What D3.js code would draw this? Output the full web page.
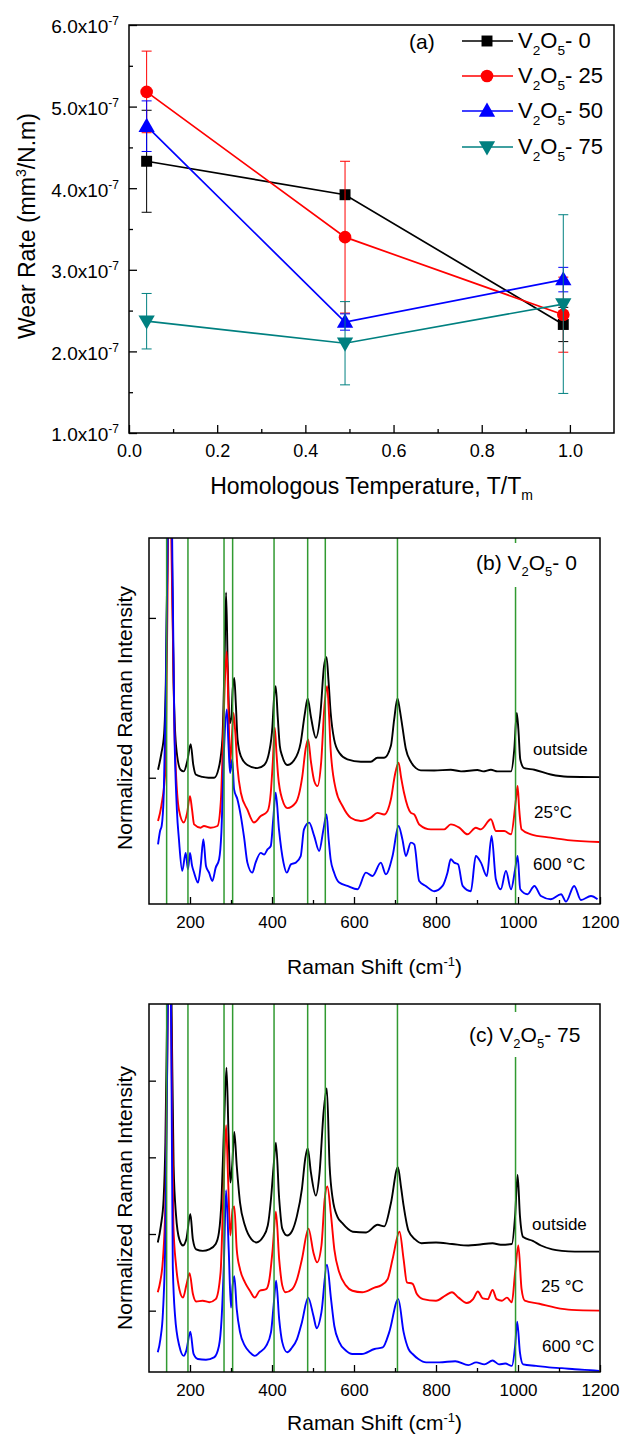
<!DOCTYPE html>
<html><head><meta charset="utf-8">
<script src="https://cdn.jsdelivr.net/npm/d3@7"></script>
<style>body{margin:0;background:#fff} text{font-family:"Liberation Sans",Arial,Helvetica,sans-serif}</style>
</head><body><svg id="chart" width="639" height="1436"></svg>
<script>
// ---------- Panel (a) data ----------
const tempX = [0.04, 0.49, 0.985];
const seriesNames = ["0", "25", "50", "75"];
const seriesColors = ["#000000", "#ff0000", "#0000ff", "#008080"];
const wear0 = [4.33e-7, 3.92e-7, 2.33e-7];
const wear25 = [5.18e-7, 3.40e-7, 2.45e-7];
const wear50 = [4.76e-7, 2.36e-7, 2.88e-7];
const wear75 = [2.37e-7, 2.10e-7, 2.58e-7];
const err0 = [0.625e-7, 0.03e-7, 0.21e-7];
const err25 = [0.50e-7, 0.93e-7, 0.46e-7];
const err50 = [0.31e-7, 0.10e-7, 0.15e-7];
const err75 = [0.34e-7, 0.51e-7, 1.095e-7];
const wearTicks = [1e-7, 2e-7, 3e-7, 4e-7, 5e-7, 6e-7];
const wearMinor = [1.5e-7, 2.5e-7, 3.5e-7, 4.5e-7, 5.5e-7];
const tempTicks = [0, 0.2, 0.4, 0.6, 0.8, 1.0];
const tempMinor = [0.1, 0.3, 0.5, 0.7, 0.9];

// ---------- Raman data ----------
const bands = [143, 195, 283, 304, 405, 487, 530, 706, 994];
const ramanTicks = [200, 400, 600, 800, 1000, 1200];
const ramanMinor = [300, 500, 700, 900, 1100];

const bOutside = [[122,1.05],[130,1.15],[137,1.28],[141,1.6],[146,2.6],[150,4.0],[155,2.6],[160,1.6],[166,1.2],[177,1.05],[185,1.04],[193,1.1],[201.7,1.21],[208,1.08],[214,1.02],[230,1.005],[245,1.0],[259,1.0],[270,1.06],[279,1.24],[284,1.7],[288,2.16],[292,1.7],[297,1.34],[301,1.38],[304,1.55],[308,1.625],[312,1.45],[316,1.24],[324,1.135],[340,1.08],[364,1.06],[381,1.08],[393,1.16],[401,1.32],[405,1.5],[409,1.573],[414,1.38],[419,1.2],[425,1.135],[437.6,1.08],[454,1.11],[470,1.22],[480,1.4],[487,1.496],[495,1.38],[507,1.25],[518,1.4],[527,1.7],[533,1.754],[538,1.6],[543,1.41],[551.5,1.24],[564,1.156],[584,1.115],[616.6,1.10],[641,1.10],[657,1.125],[673.6,1.125],[690,1.2],[698,1.365],[706,1.496],[712,1.42],[718,1.32],[726.5,1.18],[738.7,1.10],[751,1.06],[763,1.046],[795.6,1.045],[836,1.05],[861,1.04],[901,1.048],[915,1.04],[934,1.05],[950,1.04],[983,1.04],[991,1.18],[997,1.406],[1001,1.3],[1005.5,1.115],[1015,1.06],[1040,1.05],[1080,1.02],[1121,1.006],[1198,1.004]];
const b25 = [[122,0.729],[130,0.823],[140.7,1.073],[146,2.4],[150,3.8],[155,2.4],[162,1.3],[173,0.80],[185,0.72],[193,0.78],[200,0.885],[205,0.8],[210,0.708],[226,0.6875],[234,0.698],[250.5,0.6875],[267,0.698],[275,0.844],[281,1.28],[285,1.6],[289.6,1.79],[294,1.4],[298,1.09],[302,1.25],[306,1.406],[310,1.3],[315.6,1.07],[324,0.906],[340,0.80],[356,0.72],[372.6,0.76],[389,0.79],[397,0.906],[402,1.1],[406.7,1.3125],[411,1.15],[415,1.01],[425,0.865],[437.6,0.81],[458,0.844],[474,1.01],[482,1.18],[488,1.24],[495,1.1],[503,0.98],[511,0.948],[520,1.1],[528,1.45],[534.5,1.573],[539,1.4],[543,1.177],[555.6,0.927],[572,0.823],[592,0.75],[616.6,0.729],[641,0.75],[657,0.78],[673.6,0.77],[690,0.865],[700,1.02],[708.6,1.094],[715,1.0],[722,0.906],[738.7,0.78],[747,0.77],[759,0.708],[787.5,0.677],[820,0.677],[836,0.708],[856.7,0.6875],[877,0.646],[897,0.6875],[909.6,0.677],[934,0.74],[946,0.667],[966.5,0.667],[983,0.646],[995,0.865],[999,0.948],[1003,0.8],[1008.7,0.677],[1031.6,0.646],[1080,0.625],[1121,0.61],[1198,0.598]];
const b600 = [[122,0.583],[127,0.667],[131,0.7],[136,0.9],[141,1.5],[146,2.6],[150,4.0],[156,2.6],[162,1.3],[168,0.8],[173,0.615],[181,0.417],[189.5,0.53],[195,0.427],[200,0.53],[205,0.45],[210,0.406],[219.6,0.344],[226,0.448],[232.6,0.615],[239,0.448],[246.5,0.406],[254.6,0.354],[262.7,0.4375],[271,0.49],[276.5,0.656],[283,1.177],[289.6,1.427],[294,1.2],[297.7,1.03],[303,1.115],[307.5,0.927],[315.6,0.865],[324,0.76],[332,0.625],[340,0.469],[352,0.406],[360,0.469],[372.6,0.53],[381,0.52],[389,0.552],[397,0.573],[403,0.74],[409,0.906],[417,0.677],[428,0.469],[436,0.406],[446,0.458],[458,0.469],[470,0.51],[478,0.677],[490.6,0.719],[503,0.635],[515,0.542],[525.5,0.677],[533,0.771],[538,0.62],[543,0.49],[551.5,0.406],[564,0.344],[584,0.323],[608.5,0.302],[629,0.406],[645,0.385],[665.5,0.469],[677.6,0.396],[694,0.51],[708.6,0.698],[718,0.615],[726.5,0.51],[738.7,0.594],[747,0.583],[759,0.354],[775,0.323],[795.6,0.29],[816,0.323],[828,0.406],[836,0.49],[844.5,0.469],[854,0.458],[865,0.323],[885,0.29],[897,0.51],[909.6,0.469],[924,0.385],[935.6,0.635],[946,0.365],[958,0.302],[970.6,0.417],[983,0.302],[993,0.427],[999,0.51],[1005.5,0.302],[1023,0.271],[1040,0.323],[1056,0.26],[1080,0.24],[1105,0.271],[1117,0.225],[1137,0.323],[1153.6,0.235],[1178,0.26],[1194,0.24]];

const cOutside = [[121.4,1.89],[129,2.11],[135.7,2.46],[140,3.2],[145,5.2],[150,7],[155,5],[160,2.9],[166,2.24],[174,1.93],[183,1.85],[191,1.93],[200.8,2.26],[207,1.93],[215,1.80],[231,1.78],[247,1.80],[262.7,1.87],[270.6,2.02],[277,2.46],[282.5,3.33],[289,4.17],[294,3.3],[298.5,2.67],[303,2.9],[308,3.33],[314,2.89],[322,2.41],[334,2.11],[350,1.93],[362,1.89],[378,1.96],[389.7,2.11],[397.6,2.46],[404,2.89],[409.5,3.19],[417.5,2.46],[425,2.07],[437,1.98],[449,2.04],[461,2.24],[473,2.59],[481,2.98],[487,3.12],[495,2.8],[507,2.5],[516,2.8],[526,3.6],[533.7,3.90],[540.5,2.89],[548,2.46],[560,2.22],[570,2.15],[597,2.03],[629.5,2.02],[657.7,2.12],[673.8,2.10],[690,2.4],[707,2.87],[715,2.6],[721,2.37],[733,2.04],[749,1.93],[764.6,1.88],[800,1.89],[839,1.87],[879,1.85],[902,1.86],[938,1.88],[957.5,1.86],[985,1.87],[993,2.24],[999,2.77],[1004.7,2.24],[1012.6,1.96],[1036,1.91],[1056,1.85],[1083.5,1.80],[1107,1.78],[1138.6,1.77],[1198,1.77]];
const c25 = [[121.4,1.24],[127.8,1.39],[134,1.67],[140,2.4],[145,4.5],[150,6.5],[155,4.4],[159.5,2.11],[166,1.59],[174,1.28],[183,1.17],[191,1.33],[199,1.49],[207,1.22],[215,1.12],[231,1.13],[247,1.11],[262.7,1.15],[274.6,1.5],[281,2.46],[288,3.42],[293,2.7],[298.4,1.98],[304,2.33],[308,2.36],[314,1.80],[322,1.54],[334,1.37],[346,1.26],[358,1.17],[370,1.26],[385.7,1.28],[393.7,1.41],[401.6,1.80],[409.5,2.29],[417.5,1.67],[425,1.33],[433,1.24],[449,1.28],[461,1.41],[473,1.67],[489,2.07],[501,1.76],[510,1.63],[520.6,1.85],[528.6,2.46],[535,2.62],[544,2.24],[552,1.80],[564,1.5],[580,1.33],[596,1.26],[620,1.24],[650,1.30],[666,1.33],[682,1.41],[694,1.67],[711,2.03],[721,1.67],[729,1.37],[743,1.35],[753,1.22],[768.5,1.15],[800,1.13],[823.6,1.20],[839,1.24],[855,1.17],[875,1.10],[890.5,1.15],[902,1.25],[914,1.16],[926,1.15],[938,1.27],[948,1.15],[961,1.13],[973,1.17],[985,1.11],[993,1.5],[1000.8,1.85],[1008.7,1.28],[1016.5,1.13],[1052,1.09],[1091,1.04],[1130.7,1.01],[1198,1.0]];
const c600 = [[121.4,0.457],[127.8,0.63],[134,0.98],[140,2.0],[145,4.5],[150,6.5],[155,4.0],[158,1.59],[163.5,0.935],[174,0.54],[185,0.41],[191,0.48],[200.8,0.726],[208.7,0.435],[219,0.37],[239,0.36],[258.7,0.39],[270.6,0.54],[277,0.89],[282.5,1.59],[288,2.57],[294.4,1.80],[300,1.04],[304,1.33],[308,1.45],[314,1.02],[322,0.72],[334,0.54],[346,0.457],[358,0.41],[370,0.457],[385.7,0.54],[397.6,0.72],[404,1.07],[410,1.39],[417.5,0.89],[425,0.59],[437,0.457],[449,0.52],[461,0.63],[473,0.85],[488,1.17],[501,0.935],[509,0.77],[520.6,0.98],[534,1.6],[544,1.15],[552,0.80],[564,0.59],[580,0.48],[596,0.435],[619,0.435],[650,0.5],[670,0.52],[686,0.72],[708,1.15],[721,0.72],[733,0.5],[743,0.435],[757,0.37],[776,0.326],[808,0.326],[847,0.34],[879,0.29],[898,0.326],[918,0.30],[938,0.35],[953.5,0.30],[969,0.31],[985,0.28],[993,0.54],[998,0.857],[1004.7,0.457],[1012.6,0.30],[1044,0.28],[1075.6,0.26],[1107,0.25],[1138.6,0.235],[1186,0.22],[1198,0.215]];

const spectraColors = ["#000000", "#ff0000", "#0000ff"];
const bLabels = ["outside", "25°C", "600 °C"];
const cLabels = ["outside", "25 °C", "600 °C"];

// ---------- drawing ----------
const svg = d3.select("#chart");
svg.append("rect").attr("width", 639).attr("height", 1436).attr("fill", "#fff");
const FONT = '"Liberation Sans",Arial,Helvetica,sans-serif';

function v2o5(textSel, suffix, fs) {
  const d = Math.round(fs * 0.3);
  const sub = fs * 0.62;
  textSel.append("tspan").text("V");
  textSel.append("tspan").attr("dy", d).attr("font-size", sub).text("2");
  textSel.append("tspan").attr("dy", -d).text("O");
  textSel.append("tspan").attr("dy", d).attr("font-size", sub).text("5");
  textSel.append("tspan").attr("dy", -d).text(suffix);
}

function styleAxis(g, fs) {
  g.select(".domain").remove();
  g.selectAll(".tick line").attr("stroke", "#000").attr("stroke-width", 1.3);
  g.selectAll("text").attr("font-size", fs).attr("font-family", FONT).attr("fill", "#000");
}

// ===== Panel (a) =====
const A = {l: 129, r: 614, t: 25, b: 433};
const xa = d3.scaleLinear().domain([0, 1.1]).range([A.l, A.r]);
const ya = d3.scaleLinear().domain([1e-7, 6e-7]).range([A.b, A.t]);
const ga = svg.append("g");

const gy = ga.append("g").attr("transform", `translate(${A.l},0)`)
  .call(d3.axisLeft(ya).tickValues(wearTicks).tickSizeInner(-8).tickSizeOuter(0).tickPadding(10));
styleAxis(gy, 19);
gy.selectAll(".tick text").each(function(d) {
  const t = d3.select(this);
  t.text(null).attr("dy", "0.42em");
  t.append("tspan").text((d * 1e7).toFixed(1) + "x10");
  t.append("tspan").attr("dy", -8).attr("font-size", 12).text("-7");
});
const gym = ga.append("g").attr("transform", `translate(${A.l},0)`)
  .call(d3.axisLeft(ya).tickValues(wearMinor).tickSizeInner(-4).tickSizeOuter(0).tickFormat(""));
styleAxis(gym, 10);

const gx = ga.append("g").attr("transform", `translate(0,${A.b})`)
  .call(d3.axisBottom(xa).tickValues(tempTicks).tickSizeInner(-8).tickSizeOuter(0).tickPadding(11).tickFormat(d3.format(".1f")));
styleAxis(gx, 18);
const gxm = ga.append("g").attr("transform", `translate(0,${A.b})`)
  .call(d3.axisBottom(xa).tickValues(tempMinor).tickSizeInner(-4).tickSizeOuter(0).tickFormat(""));
styleAxis(gxm, 10);

ga.append("rect").attr("x", A.l).attr("y", A.t).attr("width", A.r - A.l).attr("height", A.b - A.t)
  .attr("fill", "none").attr("stroke", "#000").attr("stroke-width", 1.5);

const wearSeries = [wear0, wear25, wear50, wear75];
const errSeries = [err0, err25, err50, err75];
const symbols = [d3.symbolSquare, d3.symbolCircle, d3.symbolTriangle, d3.symbolTriangle];
const symSizes = [120, 125, 115, 115];
const symRot = [0, 0, 0, 180];
const lineA = d3.line().x((d, i) => xa(tempX[i])).y(d => ya(d));

wearSeries.forEach((vals, s) => {
  const col = seriesColors[s];
  const g = ga.append("g");
  vals.forEach((v, i) => {
    const e = errSeries[s][i];
    const cx = xa(tempX[i]);
    g.append("line").attr("x1", cx).attr("x2", cx).attr("y1", ya(v - e)).attr("y2", ya(v + e))
      .attr("stroke", col).attr("stroke-width", 1);
    [v - e, v + e].forEach(yy => {
      g.append("line").attr("x1", cx - 5).attr("x2", cx + 5).attr("y1", ya(yy)).attr("y2", ya(yy))
        .attr("stroke", col).attr("stroke-width", 1);
    });
  });
  g.append("path").attr("d", lineA(vals)).attr("fill", "none").attr("stroke", col).attr("stroke-width", 1.7);
  vals.forEach((v, i) => {
    g.append("path").attr("d", d3.symbol().type(symbols[s]).size(symSizes[s])())
      .attr("transform", `translate(${xa(tempX[i])},${ya(v) + (s === 3 ? -1 : (s === 2 ? 1 : 0))}) rotate(${symRot[s]})`)
      .attr("fill", col);
  });
});

// legend
const legY = [41, 76, 111, 147];
seriesNames.forEach((n, s) => {
  const g = ga.append("g").attr("transform", `translate(0,${legY[s]})`);
  g.append("line").attr("x1", 462).attr("x2", 513).attr("y1", 0).attr("y2", 0)
    .attr("stroke", seriesColors[s]).attr("stroke-width", 1.7);
  g.append("path").attr("d", d3.symbol().type(symbols[s]).size(symSizes[s])())
    .attr("transform", `translate(487,${s === 3 ? -1 : (s === 2 ? 1 : 0)}) rotate(${symRot[s]})`)
    .attr("fill", seriesColors[s]);
  const t = g.append("text").attr("x", 518).attr("y", 7).attr("font-size", 22).attr("fill", "#000");
  v2o5(t, "- " + n, 22);
});
ga.append("text").attr("x", 409).attr("y", 49).attr("font-size", 21).text("(a)");

ga.append("text").attr("x", (A.l + A.r) / 2).attr("y", 494).attr("text-anchor", "middle")
  .attr("font-size", 23).call(t => {
    t.append("tspan").text("Homologous Temperature, T/T");
    t.append("tspan").attr("dy", 6).attr("font-size", 14).text("m");
  });
ga.append("text").attr("transform", `translate(35,${(A.t + A.b) / 2 - 3}) rotate(-90)`)
  .attr("text-anchor", "middle").attr("font-size", 23).call(t => {
    t.append("tspan").text("Wear Rate (mm");
    t.append("tspan").attr("dy", -9).attr("font-size", 14).text("3");
    t.append("tspan").attr("dy", 9).text("/N.m)");
  });

// ===== Raman panels =====
function ramanPanel(P, yDomain, yTicks, spectra, labels, labelPos, title, titleBox, id, xTitleY, yTitleC) {
  const x = d3.scaleLinear().domain([100, 1200]).range([P.l, P.r]);
  const y = d3.scaleLinear().domain(yDomain).range([P.b, P.t]);
  const g = svg.append("g");
  svg.append("clipPath").attr("id", id).append("rect")
    .attr("x", P.l).attr("y", P.t).attr("width", P.r - P.l).attr("height", P.b - P.t);
  const line = d3.line().x(d => x(d[0])).y(d => y(d[1])).curve(d3.curveMonotoneX);
  const gs = g.append("g").attr("clip-path", `url(#${id})`);
  spectra.forEach((sp, i) => {
    gs.append("path").attr("d", line(sp)).attr("fill", "none")
      .attr("stroke", spectraColors[i]).attr("stroke-width", 1.9).attr("stroke-linejoin", "round");
  });
  bands.forEach(b => {
    gs.append("line").attr("x1", x(b)).attr("x2", x(b)).attr("y1", P.t).attr("y2", P.b)
      .attr("stroke", "#319a31").attr("stroke-width", 1.5);
  });
  g.append("rect").attr("x", titleBox[0]).attr("y", titleBox[1]).attr("width", titleBox[2]).attr("height", titleBox[3]).attr("fill", "#fff");
  const tt = g.append("text").attr("x", title.x).attr("y", title.y).attr("font-size", 21);
  tt.append("tspan").text(title.prefix + " ");
  v2o5(tt, "- " + title.n, 21);

  labels.forEach((lb, i) => {
    g.append("text").attr("x", labelPos[i][0]).attr("y", labelPos[i][1]).attr("font-size", 17).text(lb);
  });

  const gx = g.append("g").attr("transform", `translate(0,${P.b})`)
    .call(d3.axisBottom(x).tickValues(ramanTicks).tickSizeInner(-7).tickSizeOuter(0).tickPadding(12).tickFormat(d3.format("d")));
  styleAxis(gx, 17);
  const gxm = g.append("g").attr("transform", `translate(0,${P.b})`)
    .call(d3.axisBottom(x).tickValues(ramanMinor).tickSizeInner(-4).tickSizeOuter(0).tickFormat(""));
  styleAxis(gxm, 10);
  const gy = g.append("g").attr("transform", `translate(${P.l},0)`)
    .call(d3.axisLeft(y).tickValues(yTicks).tickSizeInner(-7).tickSizeOuter(0).tickFormat(""));
  styleAxis(gy, 10);
  g.append("rect").attr("x", P.l).attr("y", P.t).attr("width", P.r - P.l).attr("height", P.b - P.t)
    .attr("fill", "none").attr("stroke", "#000").attr("stroke-width", 1.5);

  g.append("text").attr("x", (P.l + P.r) / 2).attr("y", xTitleY).attr("text-anchor", "middle")
    .attr("font-size", 21).call(t => {
      t.append("tspan").text("Raman Shift (cm");
      t.append("tspan").attr("dy", -8).attr("font-size", 13).text("-1");
      t.append("tspan").attr("dy", 8).text(")");
    });
  g.append("text").attr("transform", `translate(132,${yTitleC}) rotate(-90)`)
    .attr("text-anchor", "middle").attr("font-size", 21).text("Normalized Raman Intensity");
}

ramanPanel({l: 149, r: 600, t: 538, b: 904}, [0.21, 2.5], [1, 2],
  [bOutside, b25, b600], bLabels, [[533, 755], [534, 818], [533, 870]],
  {x: 476, y: 570, prefix: "(b)", n: "0"}, [470, 543, 108, 44], "clipB", 974, 718);

ramanPanel({l: 149, r: 600, t: 1004, b: 1372}, [0.2, 5], [1, 2, 3, 4],
  [cOutside, c25, c600], cLabels, [[532, 1230], [541, 1292], [542, 1352]],
  {x: 469, y: 1042, prefix: "(c)", n: "75"}, [464, 1012, 120, 45], "clipC", 1430, 1198);
</script></body></html>
